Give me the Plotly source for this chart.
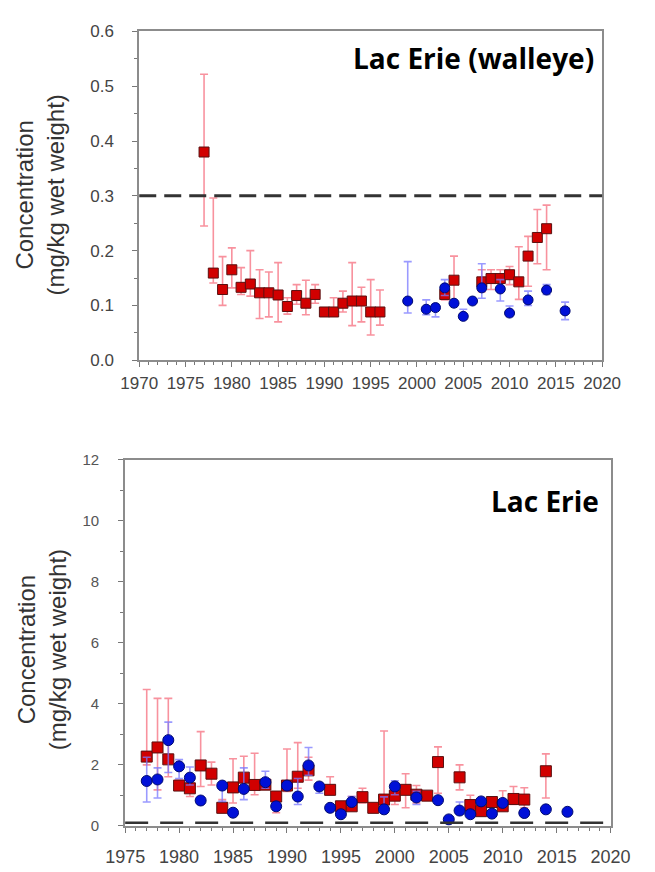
import plotly.graph_objects as go

W, H = 655, 872

# ---------------- Top panel: Lac Erie (walleye) ----------------
top_red_years = [1977, 1978, 1979, 1980, 1981, 1982, 1983, 1984, 1985, 1986,
                 1987, 1988, 1989, 1990, 1991, 1992, 1993, 1994, 1995, 1996,
                 2003, 2004, 2007, 2008, 2009, 2010, 2011, 2012, 2013, 2014]
top_red_vals = [0.380, 0.159, 0.129, 0.165, 0.133, 0.139, 0.123, 0.123, 0.119, 0.098,
                0.118, 0.104, 0.120, 0.088, 0.088, 0.104, 0.108, 0.108, 0.088, 0.088,
                0.120, 0.146, 0.143, 0.149, 0.149, 0.156, 0.143, 0.190, 0.224, 0.240]
top_red_lo = [0.245, 0.141, 0.100, 0.132, 0.120, 0.117, 0.076, 0.079, 0.070, 0.084,
              0.102, 0.083, 0.104, 0.081, 0.081, 0.088, 0.063, 0.070, 0.046, 0.064,
              0.110, 0.105, 0.125, 0.129, 0.130, 0.138, 0.111, 0.135, 0.176, 0.165]
top_red_hi = [0.522, 0.296, 0.189, 0.205, 0.169, 0.200, 0.165, 0.161, 0.178, 0.114,
              0.138, 0.146, 0.138, 0.093, 0.114, 0.126, 0.178, 0.133, 0.147, 0.128,
              0.132, 0.190, 0.165, 0.165, 0.165, 0.171, 0.207, 0.226, 0.275, 0.283]

top_blue_years = [1999, 2001, 2002, 2003, 2004, 2005, 2006, 2007, 2009, 2010, 2012, 2014, 2016]
top_blue_vals = [0.108, 0.093, 0.096, 0.132, 0.104, 0.080, 0.108, 0.132, 0.130, 0.086, 0.110, 0.128, 0.090]
top_blue_lo = [0.086, 0.083, 0.079, 0.118, 0.098, 0.075, 0.104, 0.113, 0.108, 0.080, 0.100, 0.120, 0.074]
top_blue_hi = [0.180, 0.110, 0.102, 0.147, 0.110, 0.093, 0.112, 0.176, 0.147, 0.099, 0.126, 0.138, 0.106]

top_guideline = 0.3
top_title = "Lac Erie (walleye)"

# ---------------- Bottom panel: Lac Erie ----------------
bot_red_years = [1977, 1978, 1979, 1980, 1981, 1982, 1983, 1984, 1985, 1986,
                 1987, 1988, 1989, 1990, 1991, 1992, 1994, 1995, 1996, 1997,
                 1998, 1999, 2000, 2001, 2002, 2003, 2004, 2006, 2007, 2008,
                 2009, 2010, 2011, 2012, 2014]
bot_red_vals = [2.27, 2.57, 2.18, 1.32, 1.23, 1.98, 1.71, 0.59, 1.26, 1.58,
                1.34, 1.35, 0.96, 1.32, 1.61, 1.82, 1.18, 0.64, 0.64, 0.94,
                0.59, 0.86, 0.99, 1.18, 1.02, 0.99, 2.09, 1.59, 0.68, 0.48,
                0.78, 0.64, 0.88, 0.86, 1.79]
bot_red_lo = [2.00, 1.18, 1.61, 1.18, 0.96, 1.29, 1.34, 0.43, 0.75, 1.23,
              1.02, 1.25, 0.43, 1.13, 1.23, 1.50, 1.02, 0.43, 0.54, 0.75,
              0.43, 0.70, 0.70, 0.59, 0.75, 0.90, 1.07, 1.18, 0.54, 0.40,
              0.70, 0.54, 0.70, 0.59, 0.91]
bot_red_hi = [4.47, 4.18, 4.18, 1.50, 1.39, 3.09, 2.09, 0.86, 2.20, 2.28,
              2.38, 1.50, 1.07, 2.52, 2.73, 2.25, 1.61, 0.75, 0.96, 1.23,
              0.70, 3.11, 1.23, 1.71, 1.32, 1.05, 2.59, 2.00, 1.00, 0.59,
              0.91, 1.15, 1.29, 1.25, 2.36]

bot_blue_years = [1977, 1978, 1979, 1980, 1981, 1982, 1984, 1985, 1986, 1988,
                  1989, 1990, 1991, 1992, 1993, 1994, 1995, 1996, 1999, 2000,
                  2002, 2004, 2005, 2006, 2007, 2008, 2009, 2010, 2012, 2014, 2016]
bot_blue_vals = [1.47, 1.52, 2.81, 1.95, 1.58, 0.83, 1.32, 0.43, 1.21, 1.43,
                 0.64, 1.32, 0.96, 1.98, 1.29, 0.59, 0.38, 0.78, 0.54, 1.29,
                 0.93, 0.84, 0.21, 0.50, 0.38, 0.80, 0.40, 0.75, 0.42, 0.54, 0.46]
bot_blue_lo = [0.78, 0.91, 1.75, 1.55, 1.34, 0.75, 0.80, 0.38, 0.86, 1.23,
               0.55, 1.20, 0.70, 1.66, 1.07, 0.52, 0.32, 0.65, 0.48, 1.02,
               0.70, 0.78, 0.16, 0.40, 0.32, 0.72, 0.35, 0.66, 0.36, 0.48, 0.40]
bot_blue_hi = [2.25, 1.90, 3.40, 2.17, 1.93, 0.90, 1.40, 0.50, 1.90, 1.79,
               0.72, 1.40, 1.55, 2.57, 1.39, 0.66, 0.45, 0.96, 0.95, 1.48,
               1.13, 0.90, 0.26, 0.78, 0.45, 0.88, 0.46, 0.84, 0.48, 0.60, 0.52]

bot_guideline = 0.1
bot_title = "Lac Erie"

y_title = "Concentration<br>(mg/kg wet weight)"

RED_FILL, RED_EDGE, RED_ERR = "#d10000", "#5a1010", "rgba(245,110,125,0.75)"
BLUE_FILL, BLUE_EDGE, BLUE_ERR = "#0010d8", "#000a70", "rgba(120,120,255,0.75)"


def err(vals, lo, hi):
    return dict(type="data", symmetric=False,
                array=[h - v for v, h in zip(vals, hi)],
                arrayminus=[v - l for v, l in zip(vals, lo)])


def series(x, v, lo, hi, symbol, fill, edge, ecol, size, xa, ya):
    e = err(v, lo, hi)
    e.update(color=ecol, thickness=1.6, width=4)
    return go.Scatter(x=x, y=v, mode="markers", xaxis=xa, yaxis=ya,
                      marker=dict(symbol=symbol, size=size, color=fill,
                                  line=dict(color=edge, width=1)),
                      error_y=e, showlegend=False, hoverinfo="x+y")


fig = go.Figure()
fig.add_trace(series(top_red_years, top_red_vals, top_red_lo, top_red_hi,
                     "square", RED_FILL, RED_EDGE, RED_ERR, 10, "x", "y"))
fig.add_trace(series(top_blue_years, top_blue_vals, top_blue_lo, top_blue_hi,
                     "circle", BLUE_FILL, BLUE_EDGE, BLUE_ERR, 10, "x", "y"))
fig.add_trace(series(bot_red_years, bot_red_vals, bot_red_lo, bot_red_hi,
                     "square", RED_FILL, RED_EDGE, RED_ERR, 11, "x2", "y2"))
fig.add_trace(series(bot_blue_years, bot_blue_vals, bot_blue_lo, bot_blue_hi,
                     "circle", BLUE_FILL, BLUE_EDGE, BLUE_ERR, 11, "x2", "y2"))

AX_COL = "#8c8c8c"


def tf(size, color="#444444"):
    return dict(family="Liberation Sans, Arial", size=size, color=color)


def px_x(a, b):
    return [a / W, b / W]


def px_y(top, bottom):
    return [1 - bottom / H, 1 - top / H]


MINOR_TICK = dict(ticks="outside", ticklen=3, tickcolor="#777777")
common = dict(showline=True, linecolor=AX_COL, linewidth=2, mirror=True,
              showgrid=False, zeroline=False, ticks="outside",
              tickcolor="#777777", ticklen=5)

fig.update_layout(
    width=W, height=H, margin=dict(l=0, r=0, t=0, b=0),
    paper_bgcolor="white", plot_bgcolor="white",
    xaxis=dict(domain=px_x(127, 620), range=[1970, 2020], anchor="y",
               tick0=1970, dtick=5, tickfont=tf(17), ticklabelstandoff=1,
               minor=dict(dtick=1, **MINOR_TICK), **common),
    yaxis=dict(domain=px_y(23, 359), range=[0, 0.6], anchor="x",
               dtick=0.1, tickformat=".1f", tickfont=tf(17), ticklabelstandoff=15,
               minor=dict(dtick=0.05, **MINOR_TICK), **common),
    xaxis2=dict(domain=px_x(112, 629), range=[1975, 2020], anchor="y2",
                tick0=1975, dtick=5, tickfont=tf(18), ticklabelstandoff=9,
                minor=dict(dtick=1, **MINOR_TICK), **common),
    yaxis2=dict(domain=px_y(461, 835), range=[0, 12], anchor="x2",
                dtick=2, tickfont=tf(15, "#555555"), ticklabelstandoff=16,
                minor=dict(dtick=1, **MINOR_TICK), **common),
)

# guideline dashed lines
fig.add_shape(type="line", xref="x domain", yref="y", x0=0, x1=1,
              y0=top_guideline, y1=top_guideline,
              line=dict(color="#333333", width=3, dash="17px,8px"))
fig.add_shape(type="line", xref="x2 domain", yref="y2", x0=0, x1=1,
              y0=bot_guideline, y1=bot_guideline,
              line=dict(color="#333333", width=2.5, dash="23px,12px"))

TITLE_FONT = dict(family="Open Sans", size=28, color="black")
fig.add_annotation(text="<b>%s</b>" % top_title, xref="paper", yref="paper",
                   x=613 / W, y=1 - 50 / H, xanchor="right", yanchor="middle",
                   showarrow=False, font=TITLE_FONT)
fig.add_annotation(text="<b>%s</b>" % bot_title, xref="paper", yref="paper",
                   x=619 / W, y=1 - 503 / H, xanchor="right", yanchor="middle",
                   showarrow=False, font=TITLE_FONT)

YT_FONT = dict(family="Liberation Sans, Arial", size=24, color="#333333")
fig.add_annotation(text=y_title, xref="paper", yref="paper",
                   x=21 / W, y=1 - 190 / H, xanchor="center", yanchor="middle",
                   textangle=-90, showarrow=False, font=YT_FONT)
fig.add_annotation(text=y_title, xref="paper", yref="paper",
                   x=23 / W, y=1 - 655 / H, xanchor="center", yanchor="middle",
                   textangle=-90, showarrow=False, font=YT_FONT)

fig.write_html("out.html")
